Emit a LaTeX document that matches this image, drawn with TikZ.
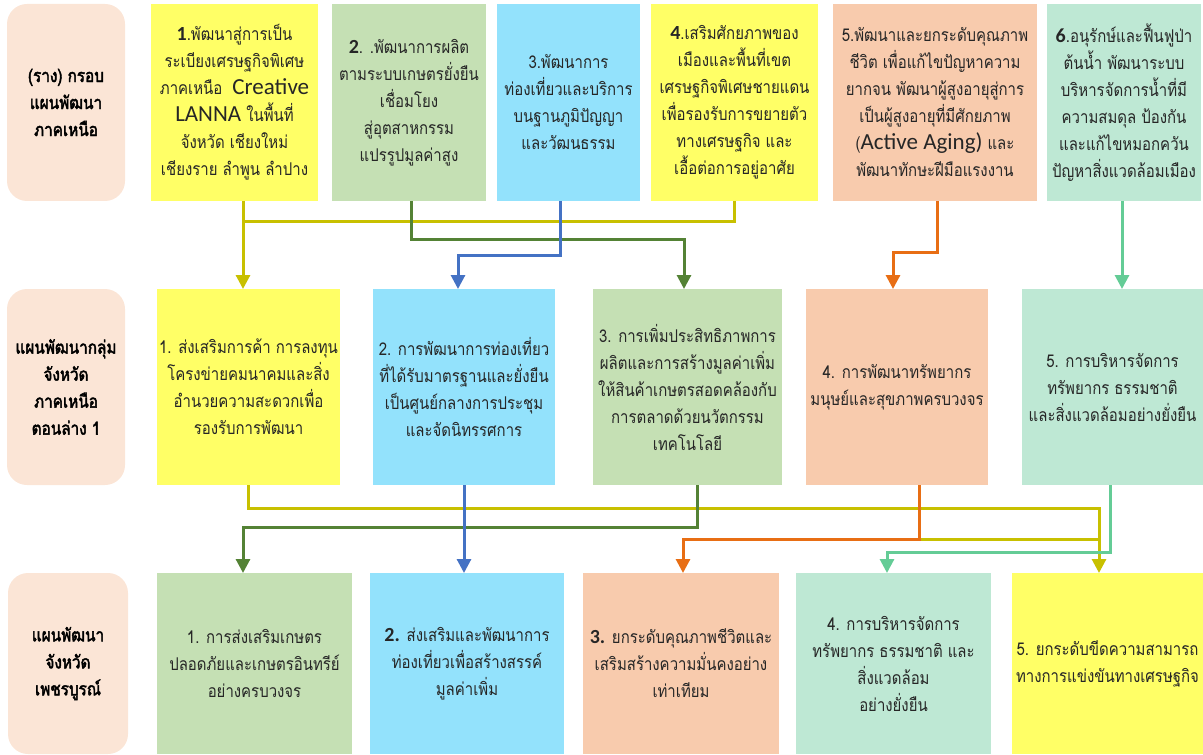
\documentclass[tikz,border=0pt]{standalone}
\usepackage{fontspec}
\setmainfont{Loma}[Script=Thai, FakeStretch=0.85, AutoFakeBold=2.5]
\newfontfamily\latinf{Carlito}
\usepackage{xcolor}
\usepackage{tikz}
\usetikzlibrary{arrows.meta,positioning,calc}
\definecolor{plpink}{RGB}{251,229,214}
\definecolor{plylw}{RGB}{255,255,102}
\definecolor{plgrn}{RGB}{197,224,180}
\definecolor{plblu}{RGB}{147,226,252}
\definecolor{plorg}{RGB}{248,203,173}
\definecolor{pltel}{RGB}{190,232,212}
\definecolor{lnylw}{RGB}{200,192,0}
\definecolor{lngrn}{RGB}{84,130,53}
\definecolor{lnblu}{RGB}{68,114,196}
\definecolor{lnorg}{RGB}{232,110,20}
\definecolor{lntel}{RGB}{100,204,150}
\newcommand{\bignum}[1]{{\latinf\bfseries\fontsize{10}{13.5}\selectfont #1}}
\newcommand{\biglat}[1]{{\latinf\fontsize{11.5}{13.5}\selectfont #1}}
\tikzset{
  plnode/.style={
    rectangle, draw=none, align=center, inner sep=1pt, outer sep=0pt,
    text=black!85, font=\fontsize{8.8}{13.5}\selectfont
  },
  pltop/.style={minimum height=98.5pt},
  plmid/.style={minimum height=98pt},
  plbot/.style={minimum height=90.5pt},
  pllabel/.style={plnode, rounded corners=10pt, fill=plpink, minimum width=59pt,
    text=black, font=\bfseries\fontsize{9}{13.5}\selectfont},
  plline/.style={line width=1.5pt},
  plarrow/.style={plline, -{Triangle[length=7pt,width=7pt]}},
}

\begin{document}
\begin{tikzpicture}[x=0.5pt, y=-0.5pt]
  \useasboundingbox (0,0) rectangle (1203,754);
  % top row
  \node (l1) [pllabel, pltop, anchor=north west] at (7,4) {(ราง) กรอบ\\แผนพัฒนา\\ภาคเหนือ};
  \node (t1) [plnode, pltop, fill=plylw, minimum width=83.5pt, right=13pt of l1] {\bignum{1}.พัฒนาสู่การเป็น\\ระเบียงเศรษฐกิจพิเศษ\\ภาคเหนือ \ \biglat{Creative}\\\biglat{LANNA} ในพื้นที่\\จังหวัด เชียงใหม่\\เชียงราย ลำพูน ลำปาง};
  \node (t2) [plnode, pltop, fill=plgrn, minimum width=77pt, right=7pt of t1] {\bignum{2}. .พัฒนาการผลิต\\ตามระบบเกษตรยั่งยืน\\เชื่อมโยง\\สู่อุตสาหกรรม\\แปรรูปมูลค่าสูง};
  \node (t3) [plnode, pltop, fill=plblu, minimum width=71.5pt, right=5.5pt of t2] {3.พัฒนาการ\\ท่องเที่ยวและบริการ\\บนฐานภูมิปัญญา\\และวัฒนธรรม};
  \node (t4) [plnode, pltop, fill=plylw, minimum width=83.5pt, right=5.5pt of t3] {\bignum{4}.เสริมศักยภาพของ\\เมืองและพื้นที่เขต\\เศรษฐกิจพิเศษชายแดน\\เพื่อรองรับการขยายตัว\\ทางเศรษฐกิจ และ\\เอื้อต่อการอยู่อาศัย};
  \node (t5) [plnode, pltop, fill=plorg, minimum width=102pt, right=7.5pt of t4] {5.พัฒนาและยกระดับคุณภาพ\\ชีวิต เพื่อแก้ไขปัญหาความ\\ยากจน พัฒนาผู้สูงอายุสู่การ\\เป็นผู้สูงอายุที่มีศักยภาพ\\(\biglat{Active Aging)} และ\\พัฒนาทักษะฝีมือแรงงาน};
  \node (t6) [plnode, pltop, fill=pltel, minimum width=77pt, right=5pt of t5] {\bignum{6}.อนุรักษ์และฟื้นฟูป่า\\ต้นน้ำ พัฒนาระบบ\\บริหารจัดการน้ำที่มี\\ความสมดุล ป้องกัน\\และแก้ไขหมอกควัน\\ปัญหาสิ่งแวดล้อมเมือง};
  % middle row
  \node (l2) [pllabel, plmid, anchor=north west] at (7,289) {แผนพัฒนากลุ่ม\\จังหวัด\\ภาคเหนือ\\ตอนล่าง 1};
  \node (m1) [plnode, plmid, fill=plylw, minimum width=91.5pt, right=16pt of l2] {1. ส่งเสริมการค้า การลงทุน\\โครงข่ายคมนาคมและสิ่ง\\อำนวยความสะดวกเพื่อ\\รองรับการพัฒนา};
  \node (m2) [plnode, plmid, fill=plblu, minimum width=91pt, right=16.5pt of m1] {2. การพัฒนาการท่องเที่ยว\\ที่ได้รับมาตรฐานและยั่งยืน\\เป็นศูนย์กลางการประชุม\\และจัดนิทรรศการ};
  \node (m3) [plnode, plmid, fill=plgrn, minimum width=94.5pt, right=19pt of m2] {3. การเพิ่มประสิทธิภาพการ\\ผลิตและการสร้างมูลค่าเพิ่ม\\ให้สินค้าเกษตรสอดคล้องกับ\\การตลาดด้วยนวัตกรรม\\เทคโนโลยี};
  \node (m4) [plnode, plmid, fill=plorg, minimum width=91pt, right=12pt of m3] {4. การพัฒนาทรัพยากร\\มนุษย์และสุขภาพครบวงจร};
  \node (m5) [plnode, plmid, fill=pltel, minimum width=90.5pt, right=17pt of m4] {5. การบริหารจัดการ\\ทรัพยากร ธรรมชาติ\\และสิ่งแวดล้อมอย่างยั่งยืน};
  % bottom row
  \node (l3) [pllabel, plbot, minimum width=60pt, anchor=north west] at (8,573) {แผนพัฒนา\\จังหวัด\\เพชรบูรณ์};
  \node (b1) [plnode, plbot, fill=plgrn, minimum width=97.5pt, right=14.5pt of l3] {1. การส่งเสริมเกษตร\\ปลอดภัยและเกษตรอินทรีย์\\อย่างครบวงจร};
  \node (b2) [plnode, plbot, fill=plblu, minimum width=97pt, right=9pt of b1] {\bignum{2.} ส่งเสริมและพัฒนาการ\\ท่องเที่ยวเพื่อสร้างสรรค์\\มูลค่าเพิ่ม};
  \node (b3) [plnode, plbot, fill=plorg, minimum width=98pt, right=9.5pt of b2] {\bignum{3.} ยกระดับคุณภาพชีวิตและ\\เสริมสร้างความมั่นคงอย่าง\\เท่าเทียม};
  \node (b4) [plnode, plbot, fill=pltel, minimum width=97.5pt, right=8.5pt of b3] {4. การบริหารจัดการ\\ทรัพยากร ธรรมชาติ และ\\สิ่งแวดล้อม\\อย่างยั่งยืน};
  \node (b5) [plnode, plbot, fill=plylw, minimum width=95.5pt, right=10.5pt of b4] {5. ยกระดับขีดความสามารถ\\ทางการแข่งขันทางเศรษฐกิจ};
  % bends
  \coordinate (ya) at (243,222);
  \coordinate (ga) at (411,239); \coordinate (gb) at (684,239);
  \coordinate (ua) at (560,255); \coordinate (ub) at (458,255);
  \coordinate (oa) at (937,252); \coordinate (ob) at (893,252);
  \coordinate (ca) at (1122,250);
  \coordinate (yb) at (1099,508);
  \coordinate (yc) at (919,539);
  \coordinate (gc) at (697,527); \coordinate (gd) at (243,527);
  \coordinate (oc) at (683,539);
  \coordinate (cb) at (1110,552); \coordinate (cc) at (887,552);
  % top connectors
  \draw[plline, lnylw] (t4.south) |- (ya);
  \draw[plarrow, lnylw] (t1.south -| ya) -- (m1.north -| ya);
  \draw[plarrow, lngrn] (t2.south -| ga) -- (ga) -- (gb) -- (m3.north -| gb);
  \draw[plarrow, lnblu] (t3.south -| ua) -- (ua) -- (ub) -- (m2.north -| ub);
  \draw[plarrow, lnorg] (t5.south -| oa) -- (oa) -- (ob) -- (m4.north -| ob);
  \draw[plarrow, lntel] (t6.south -| ca) -- (m5.north -| ca);
  % bottom connectors
  \draw[plarrow, lnylw] (m1.south) |- (yb) -- (b5.north -| yb);
  \draw[plline, lnylw] (yc) -- (yc -| yb);
  \draw[plarrow, lngrn] (m3.south -| gc) -- (gc) -- (gd) -- (b1.north -| gd);
  \draw[plarrow, lnorg] (m4.south -| yc) -- (yc) -- (oc) -- (b3.north -| oc);
  \draw[plarrow, lntel] (m5.south -| cb) -- (cb) -- (cc) -- (b4.north -| cc);
  \draw[plarrow, lnblu] (m2.south) -- (b2.north -| m2.south);
\end{tikzpicture}
\end{document}
